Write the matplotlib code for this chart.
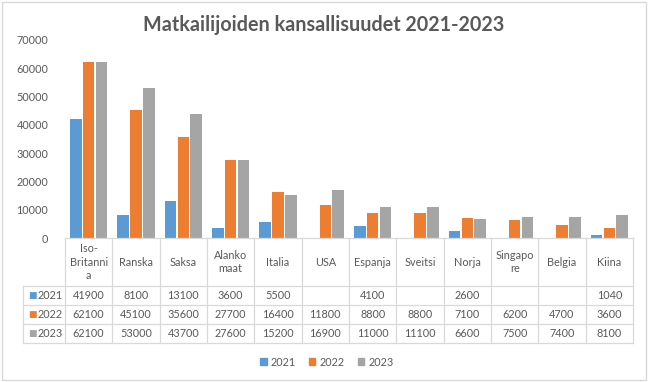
import numpy as np
import matplotlib
matplotlib.use("Agg")
import matplotlib.pyplot as plt
from matplotlib.patches import Rectangle

plt.rcParams['font.family'] = ['Lato', 'DejaVu Sans']

countries = ['Iso-Britannia', 'Ranska', 'Saksa', 'Alankomaat', 'Italia', 'USA',
             'Espanja', 'Sveitsi', 'Norja', 'Singapore', 'Belgia', 'Kiina']
col_labels = ['Iso-\nBritanni\na', 'Ranska', 'Saksa', 'Alanko\nmaat', 'Italia', 'USA',
              'Espanja', 'Sveitsi', 'Norja', 'Singapo\nre', 'Belgia', 'Kiina']
years = ['2021', '2022', '2023']
v2021 = [41900, 8100, 13100, 3600, 5500, None, 4100, None, 2600, None, None, 1040]
v2022 = [62100, 45100, 35600, 27700, 16400, 11800, 8800, 8800, 7100, 6200, 4700, 3600]
v2023 = [62100, 53000, 43700, 27600, 15200, 16900, 11000, 11100, 6600, 7500, 7400, 8100]
series = [v2021, v2022, v2023]
colors = ['#5B9BD5', '#ED7D31', '#A5A5A5']
txt = '#595959'
grid = '#D9D9D9'

W, H = 649, 382
fig = plt.figure(figsize=(W / 100, H / 100), dpi=100)

def px(l, t, r, b):
    return [l / W, 1 - b / H, (r - l) / W, (b - t) / H]

# chart border
fig.patches.append(Rectangle((2 / W, 2 / H), 644 / W, 378 / H, transform=fig.transFigure,
                             fill=False, edgecolor=grid, lw=1))

ax = fig.add_axes(px(65, 40, 633, 238))
n = len(countries)
x = np.arange(n)
for k, vals in enumerate(series):
    for i, v in enumerate(vals):
        if v is None:
            continue
        ax.bar(x[i] + (k - 1) * 0.27, v, width=0.245, color=colors[k])
ax.set_xlim(-0.5, n - 0.5)
ax.set_ylim(0, 70000)
ax.set_yticks(range(0, 70001, 10000))
ax.set_yticklabels([str(t) for t in range(0, 70001, 10000)], color=txt, fontsize=7.8)
ax.tick_params(axis='y', length=0, pad=12)
ax.set_xticks([])
for s in ax.spines.values():
    s.set_visible(False)

fig.text(324 / W, 1 - 25 / H, 'Matkailijoiden kansallisuudet 2021-2023', ha='center', va='center',
         fontsize=14.2, fontweight='bold', color=txt)

# data table
rl = 42 / (568 / n)
tax = fig.add_axes(px(23, 238, 633, 344))
tax.set_xlim(-0.5 - rl, n - 0.5)
tax.set_ylim(106, 0)
tax.axis('off')
rows = [0, 48, 67, 86, 105]
kw = dict(color=grid, lw=0.9, clip_on=False)
tax.plot([-0.5, n - 0.5], [rows[0], rows[0]], **kw)
for y in rows[1:]:
    tax.plot([-0.5 - rl, n - 0.5], [y, y], **kw)
for i in range(n + 1):
    tax.plot([i - 0.5, i - 0.5], [rows[0], rows[-1]], **kw)
tax.plot([-0.5 - rl, -0.5 - rl], [rows[1], rows[-1]], **kw)
for i, lab in enumerate(col_labels):
    tax.text(i, rows[1] / 2, lab, ha='center', va='center', fontsize=7.8, color=txt,
             linespacing=1.3)
for k, vals in enumerate(series):
    yc = (rows[k + 1] + rows[k + 2]) / 2
    tax.text(-0.5 - rl + 0.1, yc, '■', ha='left', va='center', fontsize=6.5,
             color=colors[k], family='DejaVu Sans')
    tax.text(-0.5 - rl + 0.3, yc, years[k], ha='left', va='center', fontsize=7.8, color=txt)
    for i, v in enumerate(vals):
        if v is not None:
            tax.text(i, yc, str(v), ha='center', va='center', fontsize=7.8, color=txt)

# legend
handles = [Rectangle((0, 0), 1, 1, color=c) for c in colors]
fig.legend(handles, years, loc='center', bbox_to_anchor=(327 / W, 1 - 362 / H), ncol=3,
           frameon=False, fontsize=7.8, handlelength=0.6, handleheight=0.6,
           handletextpad=0.4, columnspacing=1.2, labelcolor=txt)

fig.savefig('out.png', dpi=100)
